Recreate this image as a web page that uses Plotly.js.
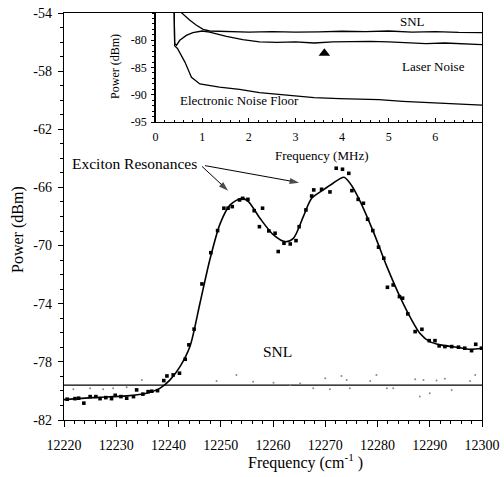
<!DOCTYPE html>
<html>
<head>
<meta charset="utf-8">
<script src="https://cdn.plot.ly/plotly-3.0.1.min.js"></script>
<style>html,body{margin:0;padding:0;background:#fff;}#chart{width:504px;height:477px;}</style>
</head>
<body>
<div id="chart"></div>
<script>
// ---- main spectrum: measured points ----
const pointFreq = [12220.6,12222.1,12222.8,12223.8,12225.0,12226.1,12226.9,12228.0,12229.1,12229.8,12230.9,12232.0,12233.3,12233.9,12235.1,12236.1,12236.8,12237.9,12239.1,12239.7,12240.9,12242.1,12243.2,12243.9,12244.9,12246.4,12248.1,12249.4,12250.6,12251.4,12252.2,12253.6,12254.2,12255.2,12256.4,12257.4,12258.0,12259.2,12260.4,12261.0,12262.1,12263.3,12264.4,12265.0,12266.3,12267.4,12267.8,12269.3,12270.9,12272.1,12273.3,12274.5,12275.1,12276.3,12277.3,12278.1,12279.1,12280.2,12281.2,12281.9,12283.0,12284.2,12284.8,12285.8,12287.2,12288.5,12289.9,12291.0,12291.8,12292.9,12294.2,12295.5,12296.7,12298.0,12298.8,12299.9];
const pointPower = [-80.57,-80.53,-80.50,-80.84,-80.39,-80.39,-80.53,-80.46,-80.53,-80.30,-80.39,-80.50,-80.39,-79.93,-80.22,-80.05,-80.02,-79.98,-79.29,-78.97,-78.90,-78.78,-77.82,-76.83,-75.75,-72.64,-70.49,-68.97,-67.43,-67.43,-67.32,-66.86,-66.75,-66.82,-67.60,-68.70,-67.43,-68.99,-69.15,-70.41,-69.84,-69.89,-69.66,-68.70,-67.55,-66.59,-66.17,-66.13,-66.31,-64.68,-64.75,-65.03,-66.22,-66.82,-67.09,-68.19,-68.97,-70.11,-70.87,-72.87,-72.71,-73.51,-73.62,-74.70,-75.92,-75.76,-76.54,-76.54,-76.90,-76.95,-76.95,-76.99,-77.06,-77.23,-76.79,-77.06];

// ---- main spectrum: fitted curve ----
const fitFreq = [12220,12225.6,12232,12235.8,12238.4,12240.3,12242.2,12244.1,12246.0,12247.9,12249.9,12251.8,12254.0,12255.3,12257.5,12260.1,12262.3,12263.9,12265.8,12267.4,12269.6,12271.5,12273.6,12275.1,12276.7,12279.2,12281.8,12284.4,12286.2,12288.1,12290.0,12292.0,12295.2,12297.7,12300];
const fitPower = [-80.6,-80.46,-80.34,-80.16,-79.81,-79.24,-78.33,-76.95,-74.0,-70.99,-68.47,-67.20,-66.75,-66.97,-68.12,-69.27,-69.73,-69.50,-68.01,-66.75,-66.17,-65.71,-65.30,-65.9,-66.97,-69.04,-71.45,-73.6,-74.89,-76.03,-76.61,-76.83,-76.99,-77.13,-77.06];

// ---- shot noise limit level and its noise trace ----
const snlLevel = -79.6;
const snlNoiseFreq = [12221.8,12225.0,12227.5,12229.4,12232.0,12234.9,12249.2,12253.0,12256.2,12260.1,12263.3,12265.2,12267.7,12270.0,12270.9,12273.1,12274.1,12274.7,12278.6,12279.8,12281.8,12283.0,12287.2,12288.1,12288.8,12290.0,12291.3,12292.9,12294.2,12297.7,12298.7];
const snlNoisePower = [-79.88,-79.81,-79.88,-79.81,-79.74,-79.24,-79.31,-78.90,-79.36,-79.43,-79.60,-79.49,-79.81,-79.13,-79.88,-78.97,-79.24,-79.81,-79.31,-78.90,-79.81,-79.81,-79.19,-80.39,-79.24,-80.16,-79.29,-79.17,-79.93,-79.31,-78.90];

// ---- "Exciton Resonances" pointer arrows (tail -> head) ----
const arrow1Freq = [12246.4, 12251.4];
const arrow1Power = [-64.55, -66.22];
const arrow2Freq = [12247.0, 12265.0];
const arrow2Power = [-64.5, -65.67];

// ---- inset: noise spectra ----
const snlMHz = [0.55,0.63,0.73,0.87,1.02,1.16,1.5,2.0,2.5,3.0,3.5,4.0,4.5,5.0,5.5,6.0,6.5,7.0];
const snlDbm = [-74.9,-75.6,-76.3,-77.2,-78.0,-78.3,-78.4,-78.5,-78.4,-78.5,-78.45,-78.35,-78.4,-78.3,-78.5,-78.4,-78.55,-78.6];
const laserMHz = [0.40,0.41,0.45,0.52,0.66,0.80,1.0,1.16,1.52,1.87,2.23,2.6,3.0,3.4,3.8,4.2,4.6,5.0,5.4,5.8,6.2,6.6,7.0];
const laserDbm = [-74.9,-80.6,-80.9,-80.0,-79.1,-78.6,-78.3,-78.5,-79.3,-79.9,-80.3,-80.4,-80.3,-80.5,-80.3,-80.2,-80.2,-80.3,-80.5,-80.6,-80.5,-80.7,-80.8];
const enfMHz = [0.40,0.41,0.47,0.52,0.63,0.77,0.95,1.37,1.8,2.23,2.6,2.93,3.4,3.94,4.4,4.79,5.3,5.86,6.4,6.93,7.0];
const enfDbm = [-74.9,-81.0,-81.5,-82.2,-84.0,-86.8,-88.0,-88.6,-89.0,-89.6,-89.9,-90.2,-90.5,-90.7,-90.8,-90.9,-91.2,-91.4,-91.7,-91.9,-91.9];
const markerMHz = [3.62];
const markerDbm = [-82.4];

// ---- tick labels ----
const xTickVals = [12220,12230,12240,12250,12260,12270,12280,12290,12300];
const xTickText = ['12220','12230','12240','12250','12260','12270','12280','12290','12300'];
const yTickVals = [-82,-78,-74,-70,-66,-62,-58,-54];
const yTickText = ['-82','-78','-74','-70','-66','-62','-58','-54'];
const x2TickVals = [0,1,2,3,4,5,6];
const x2TickText = ['0','1','2','3','4','5','6'];
const y2TickVals = [-95,-90,-85,-80];
const y2TickText = ['-95','-90','-85','-80'];

const FONT = 'Liberation Serif';

function arrowTrace(xs, ys) {
  return {x:xs, y:ys, mode:'lines+markers', line:{color:'#000', width:1},
    marker:{symbol:'arrow', angleref:'previous', size:[0, 10], color:'#000', line:{width:0}},
    xaxis:'x', yaxis:'y', hoverinfo:'skip'};
}

const traces = [
  {x:[xTickVals[0], xTickVals[xTickVals.length-1]], y:[snlLevel, snlLevel], mode:'lines', line:{color:'#000', width:1.3}, xaxis:'x', yaxis:'y', hoverinfo:'skip'},
  {x:snlNoiseFreq, y:snlNoisePower, mode:'markers', marker:{color:'#8a8a8a', size:2}, xaxis:'x', yaxis:'y'},
  {x:fitFreq, y:fitPower, mode:'lines', line:{color:'#000', width:1.6, shape:'spline', smoothing:0.8}, xaxis:'x', yaxis:'y'},
  {x:pointFreq, y:pointPower, mode:'markers', marker:{color:'#000', size:3.6, symbol:'square'}, xaxis:'x', yaxis:'y'},
  arrowTrace(arrow1Freq, arrow1Power),
  arrowTrace(arrow2Freq, arrow2Power),
  {x:snlMHz, y:snlDbm, mode:'lines', line:{color:'#000', width:1.3}, xaxis:'x2', yaxis:'y2'},
  {x:laserMHz, y:laserDbm, mode:'lines', line:{color:'#000', width:1.3}, xaxis:'x2', yaxis:'y2'},
  {x:enfMHz, y:enfDbm, mode:'lines', line:{color:'#000', width:1.3}, xaxis:'x2', yaxis:'y2'},
  {x:markerMHz, y:markerDbm, mode:'markers', marker:{color:'#000', size:10, symbol:'triangle-up'}, xaxis:'x2', yaxis:'y2'}
];

const axisCommon = {showline:true, linecolor:'#000', linewidth:1.3, showgrid:false, zeroline:false, tickcolor:'#000', tickmode:'array'};

const layout = {
  width:504, height:477,
  margin:{l:64, r:22, t:13, b:57, pad:0},
  paper_bgcolor:'#fff', plot_bgcolor:'#fff',
  showlegend:false,
  font:{family:FONT, color:'#000', size:14},
  xaxis: Object.assign({}, axisCommon, {domain:[0,1], range:[12220,12300], tickvals:xTickVals, ticktext:xTickText, ticks:'outside', ticklen:6, mirror:true, tickfont:{size:14, family:FONT}, ticklabelstandoff:6, minor:{tickmode:'linear', tick0:12220, dtick:2, ticklen:3, ticks:'outside', tickcolor:'#000'}}),
  yaxis: Object.assign({}, axisCommon, {domain:[0,1], range:[-82,-54], tickvals:yTickVals, ticktext:yTickText, ticks:'outside', ticklen:5, mirror:true, tickfont:{size:14, family:FONT}, ticklabelstandoff:3, minor:{tickmode:'linear', tick0:-82, dtick:1, ticklen:3, ticks:'outside', tickcolor:'#000'}}),
  xaxis2: Object.assign({}, axisCommon, {domain:[0.219,1], anchor:'y2', range:[0,7], tickvals:x2TickVals, ticktext:x2TickText, ticks:'inside', ticklen:4, mirror:true, tickfont:{size:12, family:FONT}, ticklabelstandoff:3, minor:{tickmode:'linear', tick0:0, dtick:0.2, ticklen:2.5, ticks:'inside', tickcolor:'#000'}}),
  yaxis2: Object.assign({}, axisCommon, {domain:[0.732,1], anchor:'x2', range:[-95,-75], tickvals:y2TickVals, ticktext:y2TickText, ticks:'outside', ticklen:3, mirror:true, tickfont:{size:12, family:FONT}, ticklabelstandoff:2, minor:{tickmode:'linear', tick0:-95, dtick:1, ticklen:2, ticks:'outside', tickcolor:'#000'}}),
  annotations:[
    {xref:'paper', yref:'paper', x:-0.11, y:0.467, text:'Power (dBm)', textangle:-90, showarrow:false, font:{size:16, family:FONT}, xanchor:'center', yanchor:'middle'},
    {xref:'paper', yref:'paper', x:0.577, y:-0.103, text:'Frequency (cm<sup>-1</sup> )', showarrow:false, font:{size:16, family:FONT}, xanchor:'center', yanchor:'middle'},
    {xref:'paper', yref:'paper', x:0.122, y:0.87, text:'Power (dBm)', textangle:-90, showarrow:false, font:{size:12, family:FONT}, xanchor:'center', yanchor:'middle'},
    {xref:'paper', yref:'paper', x:0.617, y:0.651, text:'Frequency (MHz)', showarrow:false, font:{size:13, family:FONT}, xanchor:'center', yanchor:'middle'},
    {xref:'x2', yref:'y2', x:5.5, y:-76.6, text:'SNL', showarrow:false, font:{size:13, family:FONT}},
    {xref:'x2', yref:'y2', x:5.97, y:-84.9, text:'Laser Noise', showarrow:false, font:{size:13, family:FONT}},
    {xref:'x2', yref:'y2', x:1.8, y:-91.1, text:'Electronic Noise Floor', showarrow:false, font:{size:13, family:FONT}},
    {xref:'x', yref:'y', x:12260.8, y:-77.3, text:'SNL', showarrow:false, font:{size:15.5, family:FONT}},
    {xref:'x', yref:'y', x:12245.8, y:-64.35, text:'Exciton Resonances', xanchor:'right', yanchor:'middle', showarrow:false, font:{size:15.5, family:FONT}}
  ]
};

Plotly.newPlot('chart', traces, layout, {staticPlot:true, displayModeBar:false});
</script>
</body>
</html>
